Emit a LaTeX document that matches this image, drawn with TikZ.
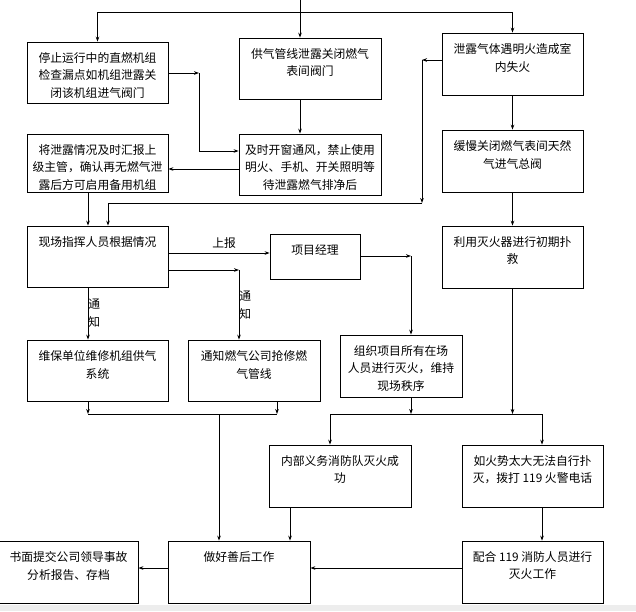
\documentclass[tikz,border=0pt]{standalone}
\usepackage{fontspec}
\newfontfamily\cjk{Noto Sans CJK SC}
\usetikzlibrary{arrows.meta}
% box text: fixed size, lines start at the top
\newcommand{\boxtext}[3]{\parbox[c][#2][t]{#1}{\centering\vspace*{10.5pt}#3}}

\begin{document}
\begin{tikzpicture}[x=1pt, y=-1pt, >={Stealth[length=5pt, width=3.6pt]}, line width=0.8pt,
  box/.style={draw, inner sep=0pt, font=\cjk\fontsize{11.8}{17.5}\selectfont},
  lbl/.style={font=\cjk\fontsize{11.8}{18}\selectfont, inner sep=0pt, align=center}]
  \useasboundingbox (0,0) rectangle (636,611);
  \fill[black!7] (0,605) rectangle (636,611);
  % first row
  \node[box] (stop) at (97.5,72.5) {\boxtext{141pt}{61pt}{停止运行中的直燃机组\\检查漏点如机组泄露关\\闭该机组进气阀门}};
  \node[box] (supply) at (310,68.5) {\boxtext{142pt}{61pt}{供气管线泄露关闭燃气\\表间阀门}};
  \node[box] (fire) at (512.5,64) {\boxtext{141pt}{62pt}{泄露气体遇明火造成室\\内失火}};
  % second row
  \node[box] (report) at (97.5,163) {\boxtext{141pt}{58pt}{将泄露情况及时汇报上\\级主管，确认再无燃气泄\\露后方可启用备用机组}};
  \node[box] (vent) at (310,164.5) {\boxtext{142pt}{61pt}{及时开窗通风，禁止使用\\明火、手机、开关照明等\\待泄露燃气排净后}};
  \node[box] (close) at (512.5,161) {\boxtext{141pt}{62pt}{缓慢关闭燃气表间天然\\气进气总阀}};
  % third row
  \node[box] (site) at (97.5,256.5) {\boxtext{141pt}{61pt}{现场指挥人员根据情况}};
  \node[box] (pm) at (315,256.5) {\boxtext{90pt}{45pt}{项目经理}};
  \node[box] (ext) at (512.5,257) {\boxtext{141pt}{62pt}{利用灭火器进行初期扑\\救}};
  % fourth row
  \node[box] (maint) at (97.5,370.5) {\boxtext{141pt}{61pt}{维保单位维修机组供气\\系统}};
  \node[box] (gasco) at (254,370.5) {\boxtext{132pt}{61pt}{通知燃气公司抢修燃\\气管线}};
  \node[box] (org) at (401,366) {\boxtext{122pt}{62pt}{组织项目所有在场\\人员进行灭火，维持\\现场秩序}};
  % fifth row
  \node[box] (team) at (340,476) {\boxtext{142pt}{62pt}{内部义务消防队灭火成\\功}};
  \node[box] (big) at (532.5,476) {\boxtext{141pt}{62pt}{如火势太大无法自行扑\\灭，拨打 119 火警电话}};
  % last row
  \node[box] (written) at (68.5,572) {\boxtext{139pt}{62pt}{书面提交公司领导事故\\分析报告、存档}};
  \node[box] (after) at (239,572) {\boxtext{142pt}{62pt}{做好善后工作}};
  \node[box] (coop) at (532.5,572) {\boxtext{141pt}{62pt}{配合 119 消防人员进行\\灭火工作}};

  % bends and buses
  \coordinate (in) at (300,0);
  \coordinate (split) at (300,12);
  \coordinate (j1) at (199,73);
  \coordinate (j2) at (422,60);
  \coordinate (j3) at (422,203);
  \coordinate (j4) at (108,203);
  \coordinate (lcol) at (88,0);
  \coordinate (j5) at (239,270);
  \coordinate (j6) at (411,256);
  \coordinate (b1l) at (88,414);
  \coordinate (b1r) at (277,414);
  \coordinate (b1m) at (219,414);
  \coordinate (b2l) at (330,414);
  \coordinate (b2r) at (542,414);

  \draw[->] (in) -- (in |- supply.north);
  \draw[->] (split) -| (stop.north);
  \draw[->] (split) -| (fire.north);
  \draw[->] (stop.east |- j1) -- (j1);
  \draw[->] (j1) |- ([yshift=13.5pt]vent.west);
  \draw[->] (in |- supply.south) -- (in |- vent.north);
  \draw[->] ([yshift=-4.5pt]vent.west) -- ([yshift=-4.5pt]vent.west -| report.east);
  \draw[->] (fire.west |- j2) -- (j2);
  \draw[->] (j2) -- (j3);
  \draw[->] (j3) -- (j4) -- (j4 |- site.north);
  \draw[->] (lcol |- report.south) -- (lcol |- site.north);
  \draw[->] (fire.south) -- (close.north);
  \draw[->] (close.south) -- (ext.north);
  \draw[->] ([yshift=3.5pt]pm.west -| site.east) -- node[lbl, above=4pt, pos=0.55]{上报} ([yshift=3.5pt]pm.west);
  \draw[->] (site.east |- j5) -- (j5);
  \draw[->] (j5) -- node[lbl, right]{通\\知} (j5 |- gasco.north);
  \draw[->] (lcol |- site.south) -- node[lbl, right]{通\\知} (lcol |- maint.north);
  \draw[->] (pm.east |- j6) -- (j6);
  \draw[->] (j6) -- (j6 |- org.north);
  \draw[->] (org.south -| j6) -- (j6 |- b2l);
  \draw[->] (ext.south) -- (ext.south |- b2l);
  \draw (b2l) -- (b2r);
  \draw[->] (b2l) -- (b2l |- team.north);
  \draw[->] (b2r) -- (b2r |- big.north);
  \draw[->] (maint.south -| b1l) -- (b1l);
  \draw[->] (gasco.south -| b1r) -- (b1r);
  \draw (b1l) -- (b1r);
  \draw[->] (b1m) -- (b1m |- after.north);
  \draw[->] ([xshift=-50pt]team.south) -- ([xshift=-50pt]team.south |- after.north);
  \draw[->] (big.south -| b2r) -- (b2r |- coop.north);
  \draw[->] ([yshift=4pt]coop.west) -- ([yshift=4pt]coop.west -| after.east);
  \draw[->] ([yshift=4pt]after.west) -- ([yshift=4pt]after.west -| written.east);
\end{tikzpicture}
\end{document}
